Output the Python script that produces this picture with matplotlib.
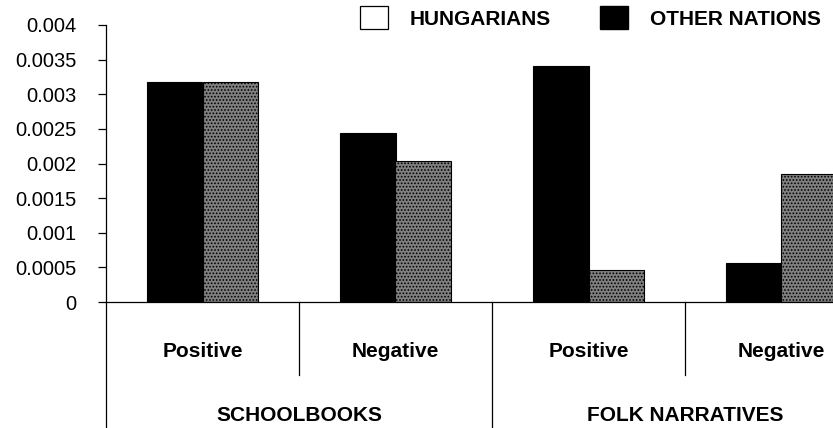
import matplotlib
matplotlib.use("Agg")
import matplotlib.pyplot as plt
from matplotlib.patches import Patch
from matplotlib.transforms import blended_transform_factory

plt.rcParams['font.family'] = ['Liberation Sans', 'DejaVu Sans']
plt.rcParams['hatch.linewidth'] = 0.8

# data
groups = ['SCHOOLBOOKS', 'FOLK NARRATIVES']
subcats = ['Positive', 'Negative', 'Positive', 'Negative']
other_nations = [0.00317, 0.00244, 0.00341, 0.00057]
hungarians = [0.00318, 0.00203, 0.00046, 0.00185]
yticks = [0, 0.0005, 0.001, 0.0015, 0.002, 0.0025, 0.003, 0.0035, 0.004]
ytick_labels = ['0', '0.0005', '0.001', '0.0015', '0.002', '0.0025', '0.003', '0.0035', '0.004']

W, H = 833, 428
fig = plt.figure(figsize=(W / 100, H / 100), dpi=100)
# axis extends past the right edge like in the original
ax = fig.add_axes([106 / W, (H - 302) / H, 772 / W, 277 / H])

bw = 0.29
centers = [i + 0.5 for i in range(len(subcats))]
ax.bar([c - bw / 2 for c in centers], other_nations, width=bw,
       color='black', edgecolor='black', linewidth=0.8)
ax.bar([c + bw / 2 for c in centers], hungarians, width=bw,
       facecolor='#808080', edgecolor='black', hatch='.....', linewidth=0.8)

ax.set_xlim(0, 4)
ax.set_ylim(0, 0.004)
ax.set_yticks(yticks)
ax.set_yticklabels(ytick_labels, fontsize=14.5)
ax.tick_params(axis='y', direction='out', length=6, width=0.9, pad=15)
ax.set_xticks([])
for s in ['top', 'right']:
    ax.spines[s].set_visible(False)
ax.spines['left'].set_linewidth(0.9)
ax.spines['bottom'].set_linewidth(0.9)

# category table below the axis
tr = blended_transform_factory(ax.transData, ax.transAxes)
for x in [0, 2, 4]:
    ax.plot([x, x], [0, -0.5], transform=tr, color='black', lw=0.9, clip_on=False)
for x in [1, 3]:
    ax.plot([x, x], [0, -0.264], transform=tr, color='black', lw=0.9, clip_on=False)
for c, lab in zip(centers, subcats):
    ax.text(c, -0.18, lab, transform=tr, ha='center', va='center',
            fontsize=15, fontweight='bold')
for i, g in enumerate(groups):
    ax.text(2 * i + 1, -0.41, g, transform=tr, ha='center', va='center',
            fontsize=15, fontweight='bold')

handles = [Patch(facecolor='white', edgecolor='black', linewidth=0.9),
           Patch(facecolor='black', edgecolor='black')]
fig.legend(handles, ['HUNGARIANS', 'OTHER NATIONS'], loc='upper left',
           bbox_to_anchor=(360 / W, 1 - 6 / H), ncol=2, frameon=False,
           borderpad=0, borderaxespad=0, handlelength=1.35, handleheight=1.35,
           handletextpad=1.05, columnspacing=2.35,
           prop={'size': 15, 'weight': 'bold'})

fig.savefig('out.png', dpi=100)
